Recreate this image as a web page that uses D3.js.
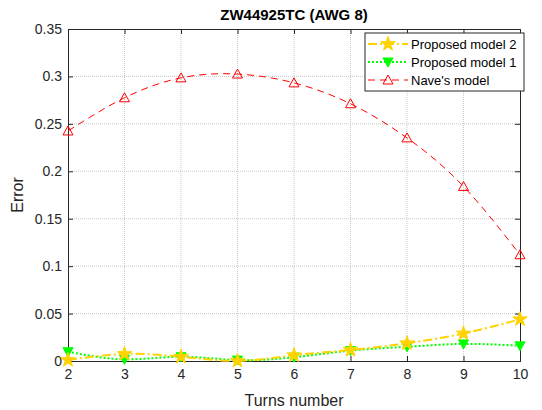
<!DOCTYPE html>
<html>
<head>
<meta charset="utf-8">
<script src="https://cdn.jsdelivr.net/npm/d3@7"></script>
<style>
  body { margin: 0; background: #fff; }
  text { font-family: "Liberation Sans", Arial, sans-serif; }
</style>
</head>
<body>
<script>
// data
var turns = [2, 3, 4, 5, 6, 7, 8, 9, 10];
var model2 = [0.001, 0.0074, 0.0045, 0.0002, 0.006, 0.0116, 0.0187, 0.029, 0.044];
var model1 = [0.0098, 0.0018, 0.0045, 0.001, 0.004, 0.011, 0.015, 0.018, 0.016];
var naves = [0.2425, 0.2775, 0.2985, 0.3025, 0.2932, 0.2712, 0.2352, 0.184, 0.112];
var yTicks = [0, 0.05, 0.1, 0.15, 0.2, 0.25, 0.3, 0.35];
var seriesNames = ["Proposed model 2", "Proposed model 1", "Nave's model"];

var W = 542, H = 410;
var m = {left: 68, right: 22, top: 29, bottom: 49};
var w = W - m.left - m.right, h = H - m.top - m.bottom;

var x = d3.scaleLinear().domain([2, 10]).range([0, w]);
var y = d3.scaleLinear().domain([0, 0.35]).range([h, 0]);

var svg = d3.select("body").append("svg")
    .attr("width", W)
    .attr("height", H);

var g = svg.append("g")
    .attr("transform", "translate(" + m.left + "," + m.top + ")");

// grid
g.append("g").selectAll("line.gx")
    .data(turns.slice(1, -1))
  .enter().append("line")
    .attr("x1", x).attr("x2", x)
    .attr("y1", 0).attr("y2", h)
    .attr("stroke", "#c8c8c8")
    .attr("stroke-dasharray", "1,1");

g.append("g").selectAll("line.gy")
    .data(yTicks.slice(1, -1))
  .enter().append("line")
    .attr("x1", 0).attr("x2", w)
    .attr("y1", y).attr("y2", y)
    .attr("stroke", "#c8c8c8")
    .attr("stroke-dasharray", "1,1");

// axes
g.append("g")
    .attr("transform", "translate(0," + h + ")")
    .call(d3.axisBottom(x).tickValues(turns).tickSize(-5).tickPadding(8).tickFormat(d3.format("d")));
g.append("g")
    .call(d3.axisLeft(y).tickValues(yTicks).tickSize(-5).tickPadding(6).tickFormat(function(d) { return d === 0 ? "0" : String(+d.toFixed(2)); }));
g.append("g")
    .call(d3.axisTop(x).tickValues(turns).tickSize(-5).tickFormat(""));
g.append("g")
    .attr("transform", "translate(" + w + ",0)")
    .call(d3.axisRight(y).tickValues(yTicks).tickSize(-5).tickFormat(""));

g.selectAll(".domain").attr("stroke", "#262626");
g.selectAll(".tick line").attr("stroke", "#262626");
g.selectAll(".tick text")
    .attr("fill", "#262626")
    .style("font-size", "14px")
    .style("font-family", "'Liberation Sans', Arial, sans-serif");

// labels
svg.append("text")
    .attr("x", m.left + w / 2).attr("y", 20)
    .attr("text-anchor", "middle")
    .style("font-size", "15px").style("font-weight", "bold")
    .text("ZW44925TC (AWG 8)");
svg.append("text")
    .attr("x", m.left + w / 2).attr("y", 406)
    .attr("text-anchor", "middle")
    .attr("fill", "#262626")
    .style("font-size", "16px")
    .text("Turns number");
svg.append("text")
    .attr("transform", "translate(23," + (m.top + h / 2) + ")rotate(-90)")
    .attr("text-anchor", "middle")
    .attr("fill", "#262626")
    .style("font-size", "16px")
    .text("Error");

// series
var series = [
  {name: seriesNames[0], values: model2, color: "#FFD200", dash: "9,3,2,3", width: 2, marker: "star"},
  {name: seriesNames[1], values: model1, color: "#00FF00", dash: "2,2", width: 2, marker: "down"},
  {name: seriesNames[2], values: naves, color: "#FF0000", dash: "7,5", width: 1, marker: "up"}
];

var line = d3.line()
    .x(function(d, i) { return x(turns[i]); })
    .y(function(d) { return y(d); })
    .curve(d3.curveNatural);

var star = d3.symbol().type(d3.symbolStar).size(65);

function drawMarker(sel, s) {
  if (s.marker === "star") {
    sel.append("path").attr("d", star())
      .attr("fill", s.color).attr("stroke", s.color).attr("stroke-width", 1);
  } else if (s.marker === "down") {
    sel.append("path").attr("d", "M-5,-4L5,-4L0,5Z")
      .attr("fill", s.color).attr("stroke", s.color).attr("stroke-width", 1);
  } else {
    sel.append("path").attr("d", "M0,-5L5,4L-5,4Z")
      .attr("fill", "none").attr("stroke", s.color).attr("stroke-width", 1);
  }
}

var plot = g.append("g");
series.slice().reverse().forEach(function(s) {
  plot.append("path")
    .datum(s.values)
    .attr("d", line)
    .attr("fill", "none")
    .attr("stroke", s.color)
    .attr("stroke-width", s.width)
    .attr("stroke-dasharray", s.dash);
  s.values.forEach(function(v, i) {
    var mk = plot.append("g")
      .attr("transform", "translate(" + x(turns[i]) + "," + y(v) + ")");
    drawMarker(mk, s);
  });
});

// legend
var lg = g.append("g").attr("transform", "translate(" + (w - 155) + ",4)");
lg.append("rect")
    .attr("width", 159).attr("height", 58)
    .attr("fill", "#fff").attr("stroke", "#262626");
series.forEach(function(s, i) {
  var row = lg.append("g").attr("transform", "translate(0," + (11 + i * 18) + ")");
  row.append("line")
    .attr("x1", 3).attr("x2", 43)
    .attr("stroke", s.color)
    .attr("stroke-width", s.width)
    .attr("stroke-dasharray", s.dash);
  drawMarker(row.append("g").attr("transform", "translate(23,0)"), s);
  row.append("text")
    .attr("x", 46).attr("dy", "0.35em")
    .style("font-size", "13px")
    .text(s.name);
});
</script>
</body>
</html>
